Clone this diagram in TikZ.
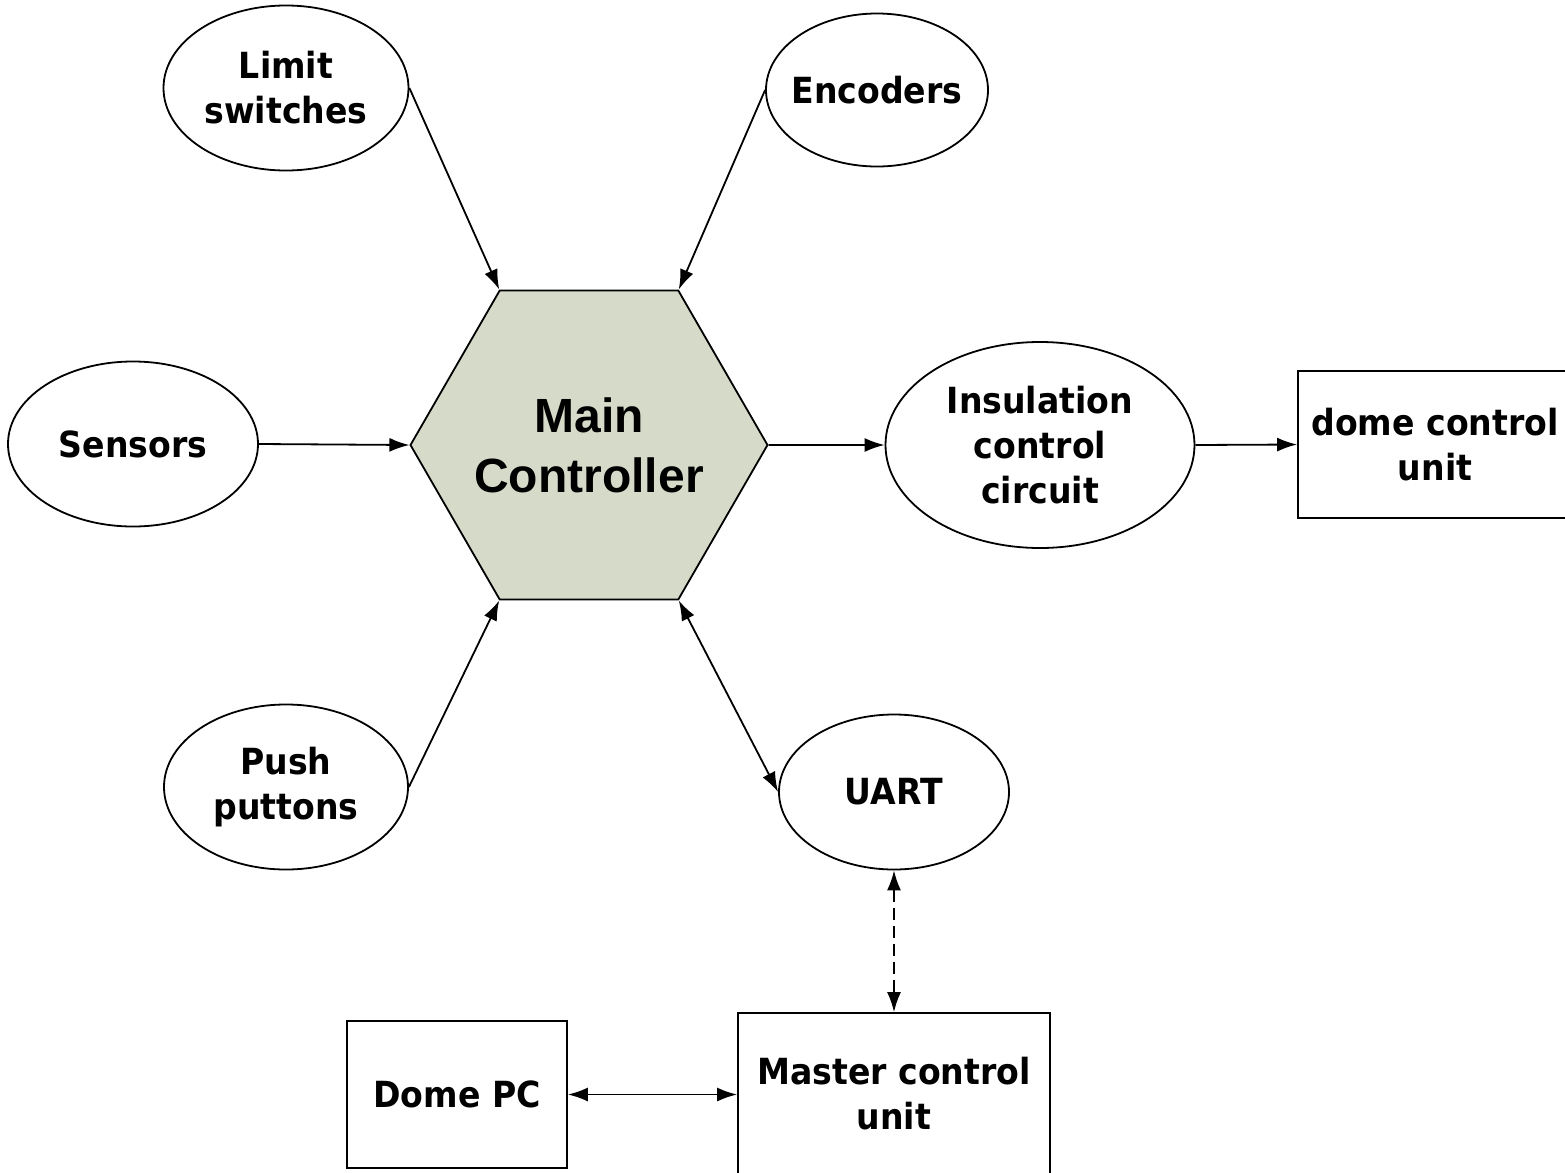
\documentclass[tikz,border=0pt]{standalone}
\usepackage{fontspec}
\usetikzlibrary{shapes.geometric,arrows.meta}
\newfontfamily\lblfont[FakeStretch=0.92]{DejaVu Sans}
\newfontfamily\hexfont{Liberation Sans}
\definecolor{hexfill}{RGB}{214,219,201}
\tikzset{
  lbl/.style={font=\lblfont\bfseries\fontsize{18}{22.5}\selectfont, align=center, draw, line width=0.9pt, inner sep=0pt},
  ell/.style={lbl, ellipse, inner xsep=-15pt},
  boxnode/.style={lbl, rectangle},
  arr/.style={line width=0.9pt, -{Latex[length=10pt,width=7pt]}},
  darr/.style={line width=0.9pt, {Latex[length=10pt,width=7pt]}-{Latex[length=10pt,width=7pt]}},
}
\begin{document}
\begin{tikzpicture}[x=0.5pt,y=-0.5pt]
\useasboundingbox (0,0) rectangle (1565,1173);
% hexagon
\node[regular polygon, regular polygon sides=6, minimum size=178.5pt, inner sep=-10pt,
      draw, line width=0.9pt, fill=hexfill, align=center,
      font=\hexfont\bfseries\fontsize{24}{30}\selectfont] (hex) at (589,445) {Main\\Controller};
% ellipses
\node[ell, minimum width=122.5pt, minimum height=82.5pt] (ls) at (286,88) {Limit\\switches};
\node[ell, minimum width=111pt, minimum height=76.5pt] (enc) at (877,90) {Encoders};
\node[ell, minimum width=125pt, minimum height=82.5pt] (sen) at (133,444) {Sensors};
\node[ell, minimum width=122pt, minimum height=82.5pt] (push) at (286,787) {Push\\puttons};
\node[ell, minimum width=154.5pt, minimum height=103pt] (ins) at (1040,445) {Insulation\\control\\circuit};
\node[ell, minimum width=115pt, minimum height=77.5pt] (uart) at (894,792) {UART};
% boxes
\node[boxnode, minimum width=137pt, minimum height=73.5pt] (dome) at (1435,444.5) {dome control\\unit};
\node[boxnode, minimum width=110pt, minimum height=73.5pt] (dpc) at (457,1094.5) {Dome PC};
\node[boxnode, minimum width=156pt, minimum height=81pt] (mcu) at (894,1094) {Master control\\unit};
% connectors
\draw[arr] (ls.east) -- (hex.120);
\draw[arr] (enc.west) -- (hex.60);
\draw[arr] (sen.east) -- (hex.180);
\draw[arr] (push.east) -- (hex.240);
\draw[arr] (hex.0) -- (ins.west);
\draw[arr] (ins.east) -- (dome.west);
\draw[darr] (hex.300) -- (uart.west);
\draw[darr, dash pattern=on 6pt off 3pt] (uart.south) -- (mcu.north);
\draw[darr] (dpc.east) -- (dpc.east -| mcu.west);
\end{tikzpicture}
\end{document}
